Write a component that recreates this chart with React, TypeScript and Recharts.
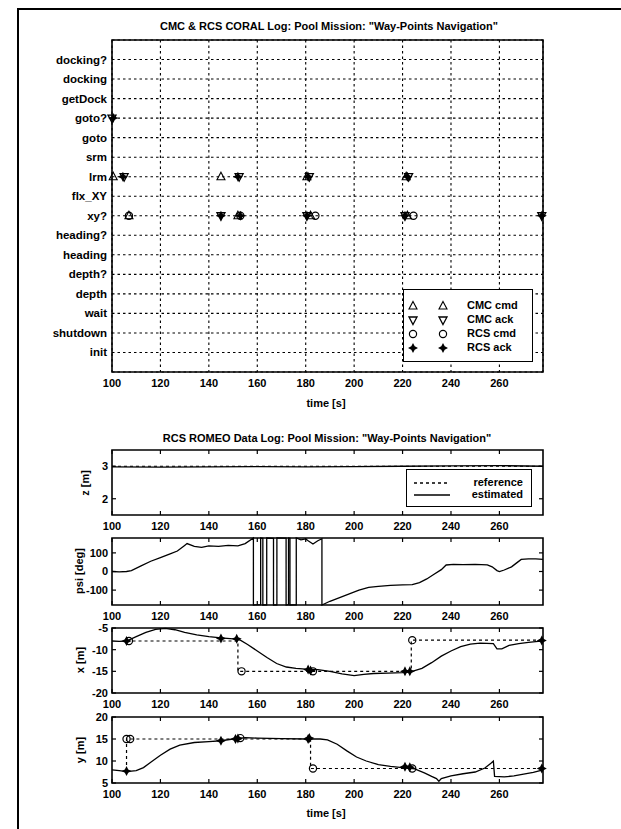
import React from 'react';
import { ComposedChart, Line, Scatter, XAxis, YAxis, CartesianGrid, ReferenceArea } from 'recharts';

// time axis shared by all panels
const timeTicks = [100, 120, 140, 160, 180, 200, 220, 240, 260];
const T0 = 100;
const T1 = 278;

// CORAL command names, bottom to top
const commands = ['init', 'shutdown', 'wait', 'depth', 'depth?', 'heading', 'heading?', 'xy?', 'flx_XY', 'lrm', 'srm', 'goto', 'goto?', 'getDock', 'docking', 'docking?'];

const cmcCmdEvents: [number, string][] = [[100.5, 'lrm'], [145, 'lrm'], [180.5, 'lrm'], [221.5, 'lrm'], [107, 'xy?'], [152, 'xy?'], [182, 'xy?'], [222, 'xy?']];
const cmcAckEvents: [number, string][] = [[100, 'goto?'], [105, 'lrm'], [152.5, 'lrm'], [181.5, 'lrm'], [222.5, 'lrm'], [145, 'xy?'], [180.5, 'xy?'], [221, 'xy?'], [277.5, 'xy?']];
const rcsCmdEvents: [number, string][] = [[107, 'xy?'], [153, 'xy?'], [184, 'xy?'], [224.5, 'xy?']];
const rcsAckEvents: [number, string][] = [[100.5, 'goto?'], [104.5, 'lrm'], [152, 'lrm'], [181, 'lrm'], [222, 'lrm'], [145, 'xy?'], [153, 'xy?'], [180.5, 'xy?'], [221, 'xy?'], [277.5, 'xy?']];

// ROMEO log
const zEstimated: [number, number][] = [[100, 2.98], [120, 2.97], [140, 2.98], [160, 2.99], [180, 2.98], [200, 2.99], [220, 3.0], [240, 3.01], [260, 3.02], [278, 3.0]];
const zReference: [number, number][] = [[100, 3.0], [278, 3.0]];

const psiEstimated: [number, number][] = [
  [100, 0], [103, -2], [106, 0], [108, 5], [112, 30], [116, 55], [120, 75], [124, 95], [127, 110], [130, 140], [131, 150],
  [134, 135], [137, 130], [140, 138], [144, 135], [148, 140], [152, 138], [155, 150], [158.4, 180],
  [158.4, -180], [161.4, -178], [161.4, 180], [162.3, 178], [162.3, -180], [163.9, -179], [163.9, 180], [166.7, 178],
  [166.7, -180], [168.1, -179], [168.1, 180], [171.9, 179], [171.9, -180], [172.9, -178], [172.9, 180], [173.5, 178],
  [173.5, -180], [176.1, -179], [176.1, 180], [178, 170], [180, 175], [181, 165], [183, 148], [185, 165], [186.7, 176],
  [186.7, -180], [190, -160], [194, -140], [198, -120], [202, -100], [206, -85], [210, -80], [215, -75], [220, -72],
  [224, -70], [227, -60], [230, -40], [233, -15], [236, 10], [238, 35], [241, 38], [245, 37], [250, 38], [255, 36],
  [257, 25], [259, 5], [260, 0], [262, 8], [265, 25], [267, 45], [269, 65], [272, 68], [275, 68], [278, 65],
];

const xEstimated: [number, number][] = [
  [100, -8], [103, -8.1], [106, -8], [110, -7], [114, -6], [118, -5.3], [122, -5.1], [126, -5.4], [130, -6], [135, -6.6],
  [140, -7], [145, -7.3], [150, -7.5], [153, -7.8], [156, -8.8], [160, -10.3], [164, -11.8], [168, -13.2], [172, -14],
  [176, -14.3], [180, -14.5], [185, -14.6], [190, -15], [195, -15.6], [200, -16], [204, -15.7], [208, -15.5], [214, -15.4],
  [220, -15.3], [224, -15], [228, -14.3], [232, -13], [236, -11.5], [240, -10.3], [244, -9.3], [248, -8.7], [252, -8.5],
  [257.5, -8.6], [259, -9.8], [261, -9.8], [264, -9], [268, -8.6], [272, -8.3], [276, -8.1], [278, -8],
];
const xReference: [number, number][] = [[106, -8], [152, -8], [152, -15], [223.6, -15], [223.6, -7.8], [278, -7.8]];
const xCmdPoints: [number, number][] = [[107, -8], [153.5, -15], [183, -15], [224, -7.8]];
const xAckPoints: [number, number][] = [[106, -8], [145, -7.4], [151.5, -7.5], [181, -14.6], [182, -14.8], [221, -15], [223, -15], [277.5, -7.9]];

const yEstimated: [number, number][] = [
  [100, 8], [103, 7.8], [106, 7.6], [110, 7.8], [113, 8.5], [116, 9.7], [120, 11.3], [124, 12.7], [128, 13.6], [134, 14.2],
  [140, 14.4], [145, 14.6], [150, 15], [155, 15.3], [160, 15.2], [170, 15.1], [180, 15], [186, 15], [189, 14.8], [193, 13.8],
  [197, 12.3], [201, 10.9], [205, 10], [210, 9.2], [215, 8.8], [220, 8.5], [225, 8.2], [229, 7.3], [232, 6.5], [234, 6],
  [235, 5.4], [236, 6], [240, 6.6], [245, 7.1], [250, 7.5], [254, 8.4], [256.5, 9.5], [257.5, 10], [258, 6.5], [262, 6.4],
  [266, 6.6], [270, 7], [274, 7.4], [278, 8],
];
const yReference: [number, number][] = [[106, 7.7], [106, 15], [182, 15], [182, 8.3], [278, 8.3]];
const yCmdPoints: [number, number][] = [[106, 15], [107.5, 15], [153, 15.2], [183, 8.3], [224, 8.3]];
const yAckPoints: [number, number][] = [[106, 7.7], [145, 14.6], [151, 15], [152, 15.1], [181, 15], [181.5, 15.2], [221, 8.7], [223, 8.6], [277.5, 8.3]];

const W = 621;
const PL = 112;
const PR = 543;
const FONT = '"Liberation Sans", Arial, sans-serif';

const pts = (a: [number, number][]) => a.map(([t, v]) => ({ t, v }));
const evts = (a: [number, string][]) => a.map(([t, c]) => ({ t, v: commands.indexOf(c) + 1 }));

const TriUp = (p: any) => (
  <path d={`M${p.cx},${p.cy - 4.5} L${p.cx + 4},${p.cy + 3} L${p.cx - 4},${p.cy + 3} Z`} fill="none" stroke="#000" strokeWidth={1.1} />
);
const TriDown = (p: any) => (
  <path d={`M${p.cx},${p.cy + 4.5} L${p.cx + 4},${p.cy - 3} L${p.cx - 4},${p.cy - 3} Z`} fill="none" stroke="#000" strokeWidth={1.3} />
);
const Ring = (p: any) => <circle cx={p.cx} cy={p.cy} r={3.6} fill="none" stroke="#000" strokeWidth={1.2} />;
const Star = (p: any) => {
  const { cx, cy } = p;
  return (
    <path
      d={`M${cx},${cy - 5} L${cx + 1.7},${cy - 1.7} L${cx + 5},${cy} L${cx + 1.7},${cy + 1.7} L${cx},${cy + 5} L${cx - 1.7},${cy + 1.7} L${cx - 5},${cy} L${cx - 1.7},${cy - 1.7} Z`}
      fill="#000"
    />
  );
};

const Label = ({ x, y, text, size = 11, rotate = false }: any) => (
  <div
    style={{
      position: 'absolute', left: x, top: y, transform: `translate(-50%, -50%)${rotate ? ' rotate(-90deg)' : ''}`,
      whiteSpace: 'nowrap', fontFamily: FONT, fontWeight: 700, fontSize: size, color: '#000', lineHeight: 1,
    }}
  >
    {text}
  </div>
);

function CoralChart() {
  const pt = 40;
  const pb = 372;
  return (
    <div style={{ position: 'absolute', left: 0, top: 0 }}>
      <ComposedChart width={W} height={400} margin={{ top: pt, right: W - PR, bottom: 8, left: PL - 60 }}>
        <CartesianGrid stroke="#000" strokeWidth={1.1} strokeDasharray="2.5 3" />
        <XAxis
          type="number" dataKey="t" domain={[T0, T1]} ticks={timeTicks} interval={0} height={20}
          axisLine={false} tickLine={false}
          tick={(p: any) => (
            <text x={p.x} y={pb + 15} textAnchor="middle" fontFamily={FONT} fontWeight={700} fontSize={11} fill="#000">{p.payload.value}</text>
          )}
        />
        <YAxis
          type="number" dataKey="v" domain={[0, 17]} ticks={commands.map((_, i) => i + 1)} interval={0} width={60}
          axisLine={false} tickLine={false}
          tick={(p: any) => (
            <text x={PL - 5} y={p.y} dy="0.35em" textAnchor="end" fontFamily={FONT} fontWeight={700} fontSize={11.5} fill="#000">
              {commands[p.payload.value - 1]}
            </text>
          )}
        />
        <ReferenceArea x1={T0} x2={T1} y1={0} y2={17} fill="none" stroke="#000" strokeWidth={1.6} />
        <Scatter data={evts(cmcCmdEvents)} shape={TriUp} isAnimationActive={false} />
        <Scatter data={evts(rcsCmdEvents)} shape={Ring} isAnimationActive={false} />
        <Scatter data={evts(cmcAckEvents)} shape={TriDown} isAnimationActive={false} />
        <Scatter data={evts(rcsAckEvents)} shape={Star} isAnimationActive={false} />
      </ComposedChart>
    </div>
  );
}

function SubPlot({ plotTop, plotBottom, domain, yTicks, est, refLine, cmds, acks }: any) {
  const plotH = plotBottom - plotTop;
  const pt = 5;
  const pb = 5 + plotH;
  return (
    <div style={{ position: 'absolute', left: 0, top: plotTop - 5 }}>
      <ComposedChart width={W} height={plotH + 27} margin={{ top: pt, right: W - PR, bottom: 0, left: PL - 40 }}>
        <XAxis
          type="number" dataKey="t" domain={[T0, T1]} ticks={timeTicks} interval={0} height={22}
          axisLine={false} tickLine={false}
          tick={(p: any) => (
            <g>
              <line x1={p.x} y1={pb} x2={p.x} y2={pb - 4} stroke="#000" strokeWidth={1.2} />
              <line x1={p.x} y1={pt} x2={p.x} y2={pt + 4} stroke="#000" strokeWidth={1.2} />
              <text x={p.x} y={pb + 15} textAnchor="middle" fontFamily={FONT} fontWeight={700} fontSize={11} fill="#000">{p.payload.value}</text>
            </g>
          )}
        />
        <YAxis
          type="number" dataKey="v" domain={domain} ticks={yTicks} interval={0} width={40}
          axisLine={false} tickLine={false}
          tick={(p: any) => (
            <g>
              <line x1={PL} y1={p.y} x2={PL + 4} y2={p.y} stroke="#000" strokeWidth={1.2} />
              <line x1={PR} y1={p.y} x2={PR - 4} y2={p.y} stroke="#000" strokeWidth={1.2} />
              <text x={PL - 4} y={p.y} dy="0.35em" textAnchor="end" fontFamily={FONT} fontWeight={700} fontSize={11} fill="#000">{p.payload.value}</text>
            </g>
          )}
        />
        <ReferenceArea x1={T0} x2={T1} y1={domain[0]} y2={domain[1]} fill="none" stroke="#000" strokeWidth={1.6} />
        {refLine && (
          <Line data={pts(refLine)} dataKey="v" type="linear" stroke="#000" strokeWidth={1.2} strokeDasharray="3 3" dot={false} isAnimationActive={false} />
        )}
        <Line data={pts(est)} dataKey="v" type="linear" stroke="#000" strokeWidth={1.3} dot={false} isAnimationActive={false} />
        {cmds && <Scatter data={pts(cmds)} shape={Ring} isAnimationActive={false} />}
        {acks && <Scatter data={pts(acks)} shape={Star} isAnimationActive={false} />}
      </ComposedChart>
    </div>
  );
}

const legendText: React.CSSProperties = { position: 'absolute', fontFamily: FONT, fontWeight: 700, fontSize: 11, lineHeight: 1 };

export default function App() {
  const coralLegend = [
    { shape: TriUp, text: 'CMC cmd' },
    { shape: TriDown, text: 'CMC ack' },
    { shape: Ring, text: 'RCS cmd' },
    { shape: Star, text: 'RCS ack' },
  ];
  return (
    <div style={{ position: 'absolute', left: 0, top: 0, width: W, height: 829, background: '#fff', overflow: 'hidden' }}>
      <div style={{ position: 'absolute', left: 17, top: 8, width: 1.5, height: 821, background: '#000' }} />
      <div style={{ position: 'absolute', left: 17, top: 8, width: W - 17, height: 1.5, background: '#000' }} />

      <Label x={329} y={26} text={'CMC & RCS CORAL Log: Pool Mission: "Way-Points Navigation"'} />
      <CoralChart />
      <Label x={326} y={403} text="time [s]" />

      <div style={{ position: 'absolute', left: 403, top: 289, width: 128, height: 71, border: '1.5px solid #000', background: '#fff' }}>
        {coralLegend.map((row, i) => {
          const Shape = row.shape;
          const cy = 16 + i * 14;
          return (
            <React.Fragment key={row.text}>
              <svg style={{ position: 'absolute', left: 0, top: 0 }} width={128} height={71}>
                <Shape cx={9} cy={cy} />
                <Shape cx={39} cy={cy} />
              </svg>
              <div style={{ ...legendText, left: 63, top: cy - 6 }}>{row.text}</div>
            </React.Fragment>
          );
        })}
      </div>

      <Label x={327} y={438} text={'RCS ROMEO Data Log: Pool Mission: "Way-Points Navigation"'} />

      <SubPlot plotTop={450} plotBottom={515} domain={[1.5, 3.5]} yTicks={[2, 3]} est={zEstimated} refLine={zReference} />
      <SubPlot plotTop={538} plotBottom={605} domain={[-180, 180]} yTicks={[-100, 0, 100]} est={psiEstimated} />
      <SubPlot plotTop={628} plotBottom={693} domain={[-20, -5]} yTicks={[-20, -15, -10, -5]} est={xEstimated} refLine={xReference} cmds={xCmdPoints} acks={xAckPoints} />
      <SubPlot plotTop={717} plotBottom={783} domain={[5, 20]} yTicks={[5, 10, 15, 20]} est={yEstimated} refLine={yReference} cmds={yCmdPoints} acks={yAckPoints} />

      <div style={{ position: 'absolute', left: 406, top: 469, width: 124, height: 36, border: '1.5px solid #000', background: '#fff' }}>
        <svg style={{ position: 'absolute', left: 0, top: 0 }} width={124} height={36}>
          <line x1={7} y1={13} x2={43} y2={13} stroke="#000" strokeWidth={1.3} strokeDasharray="3 3" />
          <line x1={7} y1={25} x2={43} y2={25} stroke="#000" strokeWidth={1.3} />
        </svg>
        <div style={{ ...legendText, right: 8, top: 7 }}>reference</div>
        <div style={{ ...legendText, right: 8, top: 19 }}>estimated</div>
      </div>

      <Label x={85} y={483} text="z [m]" rotate />
      <Label x={79} y={571} text="psi [deg]" rotate />
      <Label x={80} y={660} text="x [m]" rotate />
      <Label x={80} y={750} text="y [m]" rotate />
      <Label x={326} y={813} text="time [s]" />
    </div>
  );
}
